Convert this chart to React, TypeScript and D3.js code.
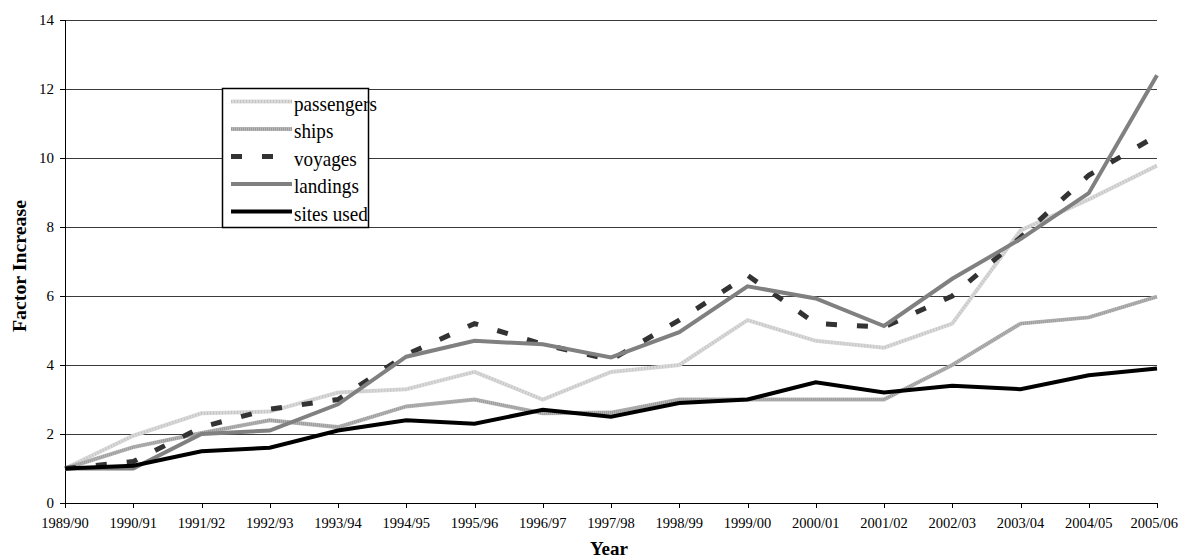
import React from "react";
import * as d3 from "d3";

const years = ["1989/90","1990/91","1991/92","1992/93","1993/94","1994/95","1995/96","1996/97","1997/98","1998/99","1999/00","2000/01","2001/02","2002/03","2003/04","2004/05","2005/06"];
const passengers = [1.0, 1.95, 2.6, 2.65, 3.2, 3.3, 3.8, 3.0, 3.8, 4.0, 5.3, 4.7, 4.5, 5.2, 7.9, 8.8, 9.78];
const ships = [1.0, 1.62, 2.03, 2.4, 2.2, 2.8, 3.0, 2.6, 2.62, 3.0, 3.0, 3.0, 3.0, 4.0, 5.2, 5.38, 5.98];
const voyages = [1.0, 1.2, 2.2, 2.72, 3.0, 4.3, 5.2, 4.6, 4.15, 5.3, 6.6, 5.2, 5.1, 6.0, 7.7, 9.5, 10.65];
const landings = [1.0, 1.0, 2.0, 2.1, 2.86, 4.24, 4.7, 4.6, 4.22, 4.95, 6.28, 5.93, 5.13, 6.5, 7.65, 8.98, 12.4];
const sitesUsed = [1.0, 1.08, 1.5, 1.6, 2.1, 2.4, 2.3, 2.7, 2.5, 2.9, 3.0, 3.5, 3.2, 3.4, 3.3, 3.7, 3.9];
const yTicks = [0, 2, 4, 6, 8, 10, 12, 14];
const seriesNames = ["passengers", "ships", "voyages", "landings", "sites used"];

type Style = { color: string; width: number; dash?: string; overlay?: string; overlayDash?: string };
const styles: Style[] = [
  { color: "#d9d9d9", width: 4, overlay: "#c4c4c4", overlayDash: "1,2" },
  { color: "#b8b8b8", width: 4, overlay: "#999999", overlayDash: "1,1" },
  { color: "#333333", width: 5, dash: "11,20" },
  { color: "#808080", width: 4 },
  { color: "#000000", width: 4 },
];
const seriesData = [passengers, ships, voyages, landings, sitesUsed];

const font = "Liberation Serif, DejaVu Serif, serif";
const T = (props: any) => <text {...props} style={{ fontFamily: font }} />;

export default function App() {
  const W = 1179, H = 560;
  const left = 65, right = 1157, top = 20, bottom = 503;
  const x = d3.scalePoint<string>().domain(years).range([left, right]);
  const y = d3.scaleLinear().domain([0, 14]).range([bottom, top]);
  const line = d3.line<number>().x((_, i) => x(years[i]) as number).y((d) => y(d));

  const legX = 222.5, legY = 88.5, legW = 146, legH = 139;
  const rowH = 27.5;

  return (
    <svg width={W} height={H} style={{ position: "absolute", left: 0, top: 0, background: "#fff" }}>
      <rect x={0} y={0} width={W} height={H} fill="#fff" />
      {yTicks.filter((t) => t > 0).map((t) => (
        <line key={t} x1={left} x2={right} y1={Math.round(y(t)) + 0.5} y2={Math.round(y(t)) + 0.5} stroke="#3a3a3a" strokeWidth={1} />
      ))}
      <line x1={left + 0.5} x2={left + 0.5} y1={top} y2={bottom + 0.5} stroke="#000" />
      <line x1={left} x2={right + 0.5} y1={bottom + 0.5} y2={bottom + 0.5} stroke="#000" />
      {yTicks.map((t) => (
        <g key={t}>
          <line x1={left - 5} x2={left} y1={Math.round(y(t)) + 0.5} y2={Math.round(y(t)) + 0.5} stroke="#000" />
          <T x={54} y={y(t) + 5} textAnchor="end" fontSize={15} fill="#000">{t}</T>
        </g>
      ))}
      {years.map((yr, i) => {
        const last = i === years.length - 1;
        return (
          <g key={yr}>
            <line x1={Math.round(x(yr) as number) + 0.5} x2={Math.round(x(yr) as number) + 0.5} y1={bottom} y2={bottom + 5} stroke="#000" />
            <T x={last ? W - 1 : (x(yr) as number)} y={528} textAnchor={last ? "end" : "middle"} fontSize={14.5} fill="#000">{yr}</T>
          </g>
        );
      })}
      {seriesData.map((s, i) => (
        <g key={i}>
          <path d={line(s) as string} fill="none" stroke={styles[i].color} strokeWidth={styles[i].width} strokeDasharray={styles[i].dash} strokeLinejoin="miter" />
          {styles[i].overlay && (
            <path d={line(s) as string} fill="none" stroke={styles[i].overlay} strokeWidth={styles[i].width - 1} strokeDasharray={styles[i].overlayDash} />
          )}
        </g>
      ))}
      <T x={609} y={555} textAnchor="middle" fontSize={19} fontWeight="bold" fill="#000">Year</T>
      <T transform={`translate(26,266) rotate(-90)`} textAnchor="middle" fontSize={19} fontWeight="bold" fill="#000" textLength={132} lengthAdjust="spacingAndGlyphs">Factor Increase</T>
      <rect x={legX} y={legY} width={legW} height={legH} fill="#fff" stroke="#000" strokeWidth={1.5} />
      {seriesNames.map((n, i) => {
        const cy = 101.5 + i * rowH;
        const st = styles[i];
        return (
          <g key={n}>
            <line x1={231} x2={292} y1={cy} y2={cy} stroke={st.color} strokeWidth={st.width} strokeDasharray={st.dash} />
            {st.overlay && <line x1={231} x2={292} y1={cy} y2={cy} stroke={st.overlay} strokeWidth={st.width - 1} strokeDasharray={st.overlayDash} />}
            <T transform={`translate(294,${cy + 9}) scale(0.87,1)`} fontSize={22} fill="#000">{n}</T>
          </g>
        );
      })}
    </svg>
  );
}
